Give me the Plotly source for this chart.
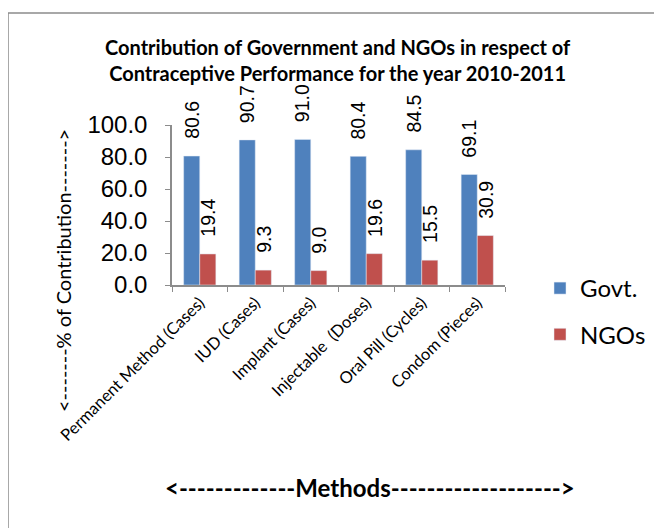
import plotly.graph_objects as go

categories = ["Permanent Method (Cases)", "IUD (Cases)", "Implant (Cases)",
              "Injectable  (Doses)", "Oral Pill (Cycles)", "Condom (Pieces)"]
govt = [80.6, 90.7, 91.0, 80.4, 84.5, 69.1]
ngos = [19.4, 9.3, 9.0, 19.6, 15.5, 30.9]
y_ticks = [0, 20, 40, 60, 80, 100]

FONT = "Lato"
NUMFONT = "Liberation Sans"
W, H = 662, 528
OFF = 8  # page body margin
L, T = 172 - OFF, 125 - OFF
R = W - (505 - OFF)
B = H - (285 - OFF)
pw = W - L - R
ph = H - T - B

def px_x(p):
    return (p - OFF - L) / pw

def px_y(p):
    return (H - B - (p - OFF)) / ph

fig = go.Figure()
fig.add_trace(go.Bar(x=categories, y=govt, name="Govt.", marker_color="#4F81BD",
                     legendgroup="g1"))
fig.add_trace(go.Bar(x=categories, y=ngos, name="NGOs", marker_color="#C0504D",
                     legendgroup="g2"))

annotations = []
for vals, shift in ((govt, -8), (ngos, 8)):
    for c, v in zip(categories, vals):
        annotations.append(dict(x=c, y=v, xref="x", yref="y", text=f"{v:.1f}",
                                showarrow=False, textangle=-90, xanchor="center",
                                yanchor="bottom", xshift=shift, yshift=15,
                                font=dict(family=NUMFONT, size=19.5, color="#000")))

annotations.append(dict(x=px_x(63), y=px_y(271), xref="paper", yref="paper",
                        xanchor="center", yanchor="middle",
                        text="<-------% of Contribution------->", showarrow=False,
                        textangle=-90, font=dict(family=FONT, size=20, color="#000")))
annotations.append(dict(x=px_x(370), y=px_y(487), xref="paper", yref="paper",
                        xanchor="center", yanchor="middle",
                        text="<b><-------------Methods-------------------></b>",
                        showarrow=False, font=dict(family=FONT, size=24, color="#000")))
annotations.append(dict(x=px_x(338), y=px_y(60), xref="paper", yref="paper",
                        xanchor="center", yanchor="middle",
                        text="<b>Contribution of Government and NGOs in respect of<br>Contraceptive Performance for the year 2010-2011</b>",
                        showarrow=False, font=dict(family=FONT, size=20, color="#000")))

fig.update_layout(
    width=W, height=H,
    margin=dict(l=L, r=R, t=T, b=B, autoexpand=False),
    paper_bgcolor="white", plot_bgcolor="white",
    barmode="group", bargap=0.42, bargroupgap=0,
    annotations=annotations,
    showlegend=True,
    legend=dict(x=px_x(540), y=px_y(266), xanchor="left", yanchor="top",
                font=dict(family=FONT, size=24, color="#000"),
                tracegroupgap=12, traceorder="grouped",
                bgcolor="rgba(0,0,0,0)"),
    shapes=[dict(type="rect", xref="paper", yref="paper",
                 x0=px_x(8), x1=px_x(720), y0=px_y(560), y1=px_y(13),
                 line=dict(color="#8C8C8C", width=1.5), fillcolor="rgba(0,0,0,0)",
                 layer="below")],
)
fig.update_yaxes(range=[0, 100], tickvals=y_ticks, tickformat=".1f",
                 showgrid=False, zeroline=False, showline=True, linecolor="#8C8C8C",
                 linewidth=1.5, ticks="outside", ticklen=5, tickcolor="#8C8C8C",
                 tickfont=dict(family=NUMFONT, size=24, color="#000"),
                 ticklabelstandoff=13)
fig.update_xaxes(showgrid=False, showline=True, linecolor="#8C8C8C", linewidth=1.5,
                 ticks="outside", ticklen=5, tickcolor="#8C8C8C", tickson="boundaries",
                 tickangle=-45, tickfont=dict(family=FONT, size=16.5, color="#000"))

fig.write_html("out.html")
